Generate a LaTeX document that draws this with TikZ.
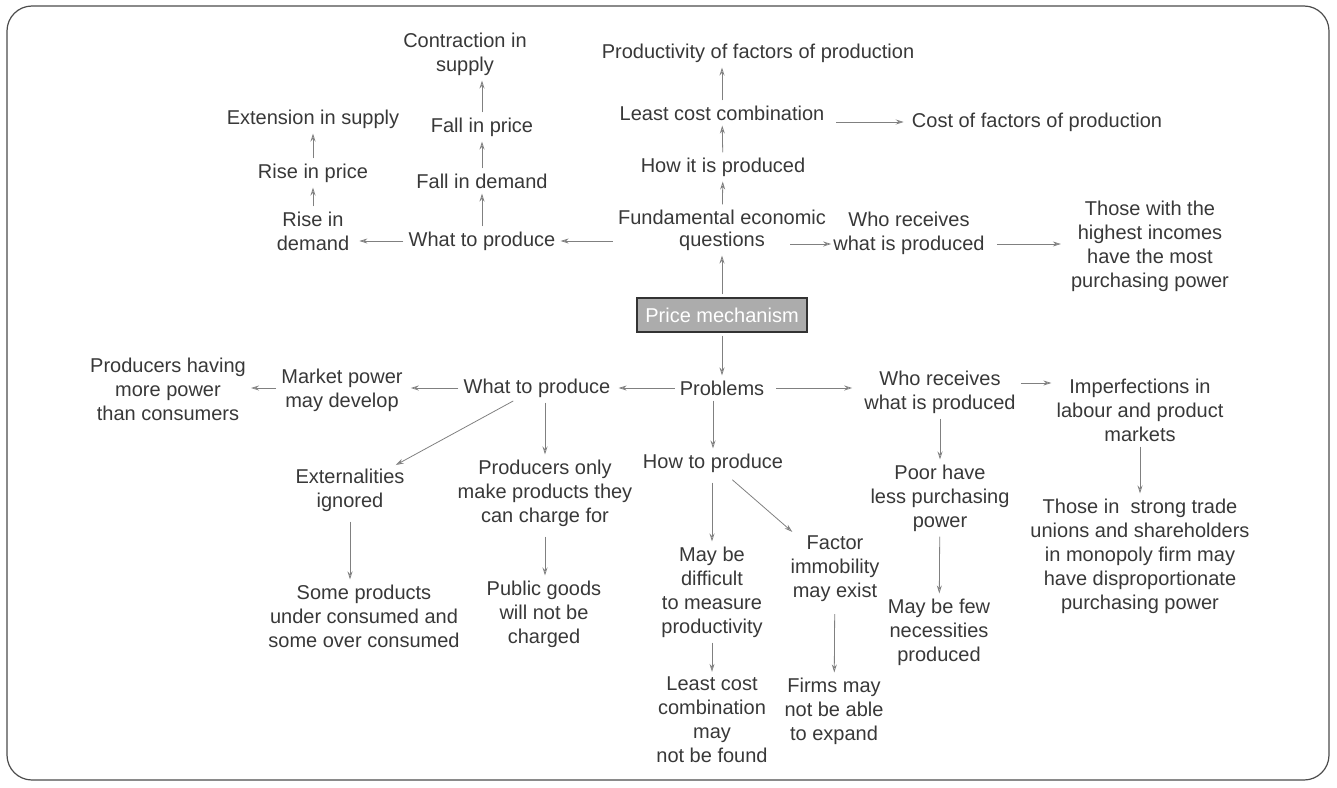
\documentclass[tikz,border=0pt]{standalone}
\usepackage{fontspec}
\setmainfont{Liberation Sans}
\usetikzlibrary{arrows.meta}
\definecolor{txt}{HTML}{383838}
\definecolor{ln}{HTML}{808080}
\begin{document}
\begin{tikzpicture}[x=1pt,y=-1pt,
  every node/.style={font=\fontsize{20}{24}\selectfont, text=txt, align=center, inner sep=2pt},
  arr/.style={draw=ln, line width=0.8pt, -{Stealth[open, length=8pt, width=5pt]}, shorten >=3pt, shorten <=3pt},
  pm/.style={draw=black!80, line width=1.3pt, fill=gray!65, text=white, inner sep=4pt, minimum width=170pt, minimum height=34pt}]
\useasboundingbox (0,0) rectangle (1337,787);
\draw[line width=1.2pt, black!70, rounded corners=25pt] (7,6) rectangle (1329,780);

% top half
\node (cis) at (465,54) {Contraction in\\supply};
\node (pfp) at (758,53) {Productivity of factors of production};
\node (eis) at (313,119) {Extension in supply};
\node (fip) at (482,127) {Fall in price};
\node (lcc) at (722,113) {Least cost combination};
\node (cfp) at (1037,122) {Cost of factors of production};
\node (rip) at (313,173) {Rise in price};
\node (fid) at (482,181) {Fall in demand};
\node (hip) at (723,167) {How it is produced};
\node (rid) at (313,231) {Rise in\\demand};
\node (wtp) at (482,241) {What to produce};
\node[font=\fontsize{20}{22}\selectfont] (feq) at (722,230) {Fundamental economic\\questions};
\node (wrt) at (909,233) {Who receives\\what is produced};
\node (thi) at (1150,246) {Those with the\\highest incomes\\have the most\\purchasing power};
\node[pm] (pm) at (722,315) {Price mechanism};
\coordinate (rowa) at (0,244);
\coordinate (fa) at (790,244);

% bottom half
\node (phm) at (168,389) {Producers having\\more power\\than consumers};
\node (mpd) at (342,390) {Market power\\may develop};
\node (wtm) at (537,388) {What to produce};
\node (prb) at (722,388) {Problems};
\node (wrm) at (940,392) {Who receives\\what is produced};
\node (imp) at (1140,410) {Imperfections in\\labour and product\\markets};
\node (ext) at (350,490) {Externalities\\ignored};
\node (pom) at (545,493) {Producers only\\make products they\\can charge for};
\node (htp) at (713,463) {How to produce};
\node (phl) at (940,498) {Poor have\\less purchasing\\power};
\node (tis) at (1140,556) {Those in\ \ strong trade\\unions and shareholders\\in monopoly firm may\\have disproportionate\\purchasing power};
\node (spu) at (364,616) {Some products\\under consumed and\\some over consumed};
\node (pgw) at (544,614) {Public goods\\will not be\\charged};
\node (mbd) at (712,592) {May be\\difficult\\to measure\\productivity};
\node (fim) at (835,569) {Factor\\immobility\\may exist};
\node (mbf) at (939,632) {May be few\\necessities\\produced};
\node (lcm) at (712,720) {Least cost\\combination\\may\\not be found};
\node (fmn) at (834,711) {Firms may\\not be able\\to expand};
\coordinate (rowb) at (0,383);

% top connectors
\draw[arr] (feq.west |- wtp) -- (wtp);
\draw[arr, shorten >=8pt] (wtp) -- (rid.east |- wtp);
\draw[arr] (wtp) -- (fid);
\draw[arr] (fid) -- (fip);
\draw[arr] (fip.north) -- (fip.north |- cis.south);
\draw[arr] (rid) -- (rip);
\draw[arr] (rip) -- (eis);
\draw[arr] (feq) -- (hip);
\draw[arr] (hip) -- (lcc);
\draw[arr] (lcc.north) -- (lcc.north |- pfp.south);
\draw[arr, shorten <=10pt, shorten >=6pt] (lcc.east |- cfp) -- (cfp);
\draw[arr, shorten <=0pt, shorten >=0pt] (fa) -- (wrt.west |- rowa);
\draw[arr, shorten <=10pt, shorten >=8pt] (wrt.east |- rowa) -- (thi.west |- rowa);
\draw[arr] (pm) -- (feq);

% bottom connectors
\draw[arr] (pm) -- (prb);
\draw[arr, shorten >=6pt] (prb) -- (wtm);
\draw[arr, shorten >=6pt] (wtm) -- (mpd.east |- wtm);
\draw[arr] (mpd.west |- wtm) -- (phm.east |- wtm);
\draw[arr] (wtm) -- (ext);
\draw[arr] (wtm.south -| pom) -- (pom);
\draw[arr] (prb.south -| htp) -- (htp);
\draw[arr, shorten <=10pt, shorten >=10pt] (prb) -- (wrm.west |- prb);
\draw[arr] (wrm.east |- rowb) -- (imp.west |- rowb);
\draw[arr] (wrm) -- (phl);
\draw[arr] (phl) -- (mbf);
\draw[arr] (imp) -- (tis);
\draw[arr, shorten <=8pt] (ext) -- (spu.north -| ext);
\draw[arr, shorten <=8pt] (pom) -- (pgw.north -| pom);
\draw[arr, shorten <=8pt] (htp.south -| mbd) -- (mbd);
\draw[arr, shorten <=8pt] (htp) -- (fim);
\draw[arr] (mbd) -- (lcm);
\draw[arr, shorten <=10pt] (fim) -- (fmn);
\end{tikzpicture}
\end{document}
